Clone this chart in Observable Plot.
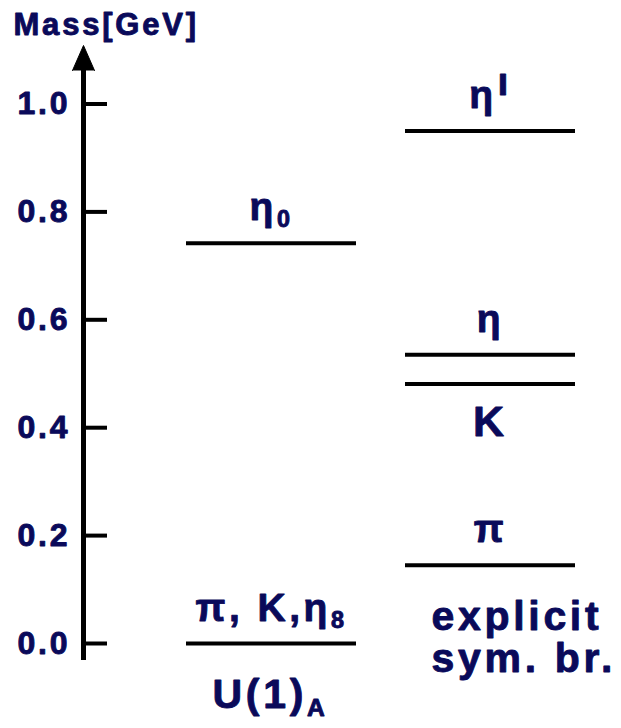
<!DOCTYPE html>
<html>
<head>
<meta charset="utf-8">
<script src="https://cdn.jsdelivr.net/npm/d3@7"></script>
<script src="https://cdn.jsdelivr.net/npm/@observablehq/plot@0.6"></script>
<style>
  body { margin: 0; background: #fff; }
  svg text { letter-spacing: 0.09em; stroke: #0a0a5a; stroke-width: 0.9px; stroke-linejoin: round; }
</style>
</head>
<body>
<div id="chart"></div>
<script>
// ---- data ----
const columns = ["U(1)_A", "explicit"];
const levelNames = ["η_0", "π, K,η_8", "η'", "η", "K", "π"];
const levelColumns = ["U(1)_A", "U(1)_A", "explicit", "explicit", "explicit", "explicit"];
const levelMasses = [0.742, 0.0, 0.950, 0.535, 0.481, 0.145];
const levelLabelSides = ["above", "above", "above", "above", "below", "above"];
const columnCaptions = ["U(1)_A", "explicit\nsym. br."];
const yTicks = [0.0, 0.2, 0.4, 0.6, 0.8, 1.0];
const axisTitle = "Mass[GeV]";

// ---- build tables ----
const navy = "#0a0a5a";
const levels = levelNames.map((name, i) => ({
  name, column: levelColumns[i], mass: levelMasses[i], side: levelLabelSides[i]
}));
const captions = columns.map((c, i) => ({
  column: c,
  text: columnCaptions[i],
  mass: d3.min(levels.filter(d => d.column === c), d => d.mass)
}));

const font = "'Liberation Sans', Arial, Helvetica, sans-serif";

const chart = Plot.plot({
  width: 621,
  height: 728,
  marginLeft: 83,
  marginRight: 0,
  marginTop: 70,
  marginBottom: 71,
  style: { fontFamily: font, background: "white", color: navy },
  x: { type: "band", domain: columns, paddingInner: 0.224, paddingOuter: 0.34, align: 0.69, axis: null },
  y: { domain: [0, 1], range: [643, 103.5] },
  marks: [
    Plot.frame({ anchor: "left", stroke: "black", strokeWidth: 5 }),
    Plot.vector([0], {
      frameAnchor: "top-left", shape: "spike", r: 11, length: 25, anchor: "start",
      fill: "black", stroke: "black", strokeWidth: 1
    }),
    Plot.axisY({
      ticks: yTicks, tickSize: -24, tickPadding: 37, tickFormat: d3.format(".1f"),
      stroke: "black", strokeWidth: 4, fill: navy, fontSize: 32, fontWeight: "bold", label: null
    }),
    Plot.tickY(levels, { x: "column", y: "mass", stroke: "black", strokeWidth: 4 }),
    Plot.text(levels.filter(d => d.side === "above"), {
      x: "column", y: "mass", text: "name", lineAnchor: "bottom", dy: -23,
      fontSize: 39, fontWeight: "bold", fill: navy
    }),
    Plot.text(levels.filter(d => d.side === "below"), {
      x: "column", y: "mass", text: "name", lineAnchor: "top", dy: 21,
      fontSize: 43, fontWeight: "bold", fill: navy
    }),
    Plot.text(captions, {
      x: "column", y: "mass", text: "text", lineAnchor: "top", dy: 35, dx: -59,
      textAnchor: "start", lineHeight: 1.03, fontSize: 41, fontWeight: "bold", fill: navy
    }),
    Plot.text([axisTitle], {
      frameAnchor: "top-left", text: d => d, textAnchor: "start", lineAnchor: "bottom",
      dx: -70, dy: -36, fontSize: 31, fontWeight: "bold", fill: navy
    })
  ]
});

// sub/superscript rendering for single-line labels
chart.querySelectorAll("text").forEach(t => {
  if (t.querySelector("tspan")) return;
  const s = t.textContent;
  const ns = "http://www.w3.org/2000/svg";
  let m;
  if ((m = s.match(/^(.*)_(.+)$/))) {
    t.textContent = "";
    const a = document.createElementNS(ns, "tspan"); a.textContent = m[1]; t.appendChild(a);
    const b = document.createElementNS(ns, "tspan");
    b.textContent = m[2];
    b.setAttribute("font-size", "0.6em");
    b.setAttribute("dy", "0.3em");
    t.appendChild(b);
  } else if ((m = s.match(/^(.*)'$/))) {
    t.textContent = "";
    const a = document.createElementNS(ns, "tspan"); a.textContent = m[1]; t.appendChild(a);
    const b = document.createElementNS(ns, "tspan");
    b.textContent = "ı";
    b.setAttribute("dy", "-0.33em");
    b.setAttribute("dx", "0.02em");
    t.appendChild(b);
  }
});

document.getElementById("chart").appendChild(chart);
</script>
</body>
</html>
